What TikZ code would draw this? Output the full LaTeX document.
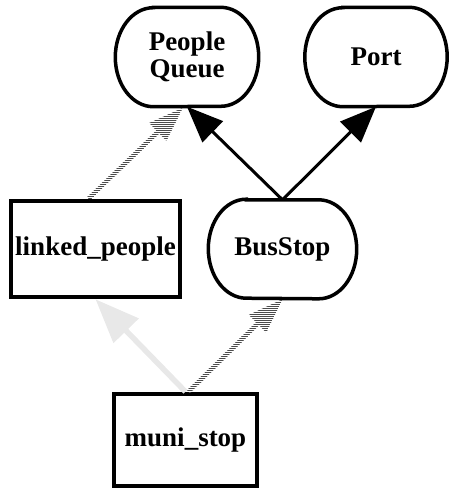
\documentclass[tikz,border=0pt]{standalone}
\usepackage{fontspec}
\setmainfont{Liberation Serif}
\usetikzlibrary{arrows.meta,calc,patterns.meta}
% outline with flat top and bottom and half-elliptic ends, drawn round a named node
\newcommand\stadiumoutline[1]{%
  \draw[line width=3.5pt]
    ([xshift=38pt]#1.north west) -- ([xshift=-38pt]#1.north east)
    arc[start angle=90, end angle=-90, x radius=38pt, y radius=49.5pt]
    -- ([xshift=38pt]#1.south west)
    arc[start angle=270, end angle=90, x radius=38pt, y radius=49.5pt]
    -- cycle;}
% striped arrow (shaft and head as one outline) from #1 to #2
\newcommand\hatcharrow[2]{%
  \coordinate (ha) at (#1);
  \coordinate (hb) at (#2);
  \coordinate (hc) at ($(hb)!35pt!(ha)$);
  \fill[hatch]
    ($(ha)!2.2pt!90:(hb)$) -- ($(hc)!2.2pt!90:(hb)$) -- ($(hc)!12.5pt!90:(hb)$)
    -- (hb) -- ($(hc)!12.5pt!-90:(hb)$) -- ($(hc)!2.2pt!-90:(hb)$)
    -- ($(ha)!2.2pt!-90:(hb)$) -- cycle;}
\begin{document}
\begin{tikzpicture}[x=1pt,y=-1pt,
  every node/.style={font=\fontsize{27}{27.5}\selectfont\bfseries, align=center, inner sep=0pt},
  roundbox/.style={minimum height=99pt},
  squarebox/.style={draw, line width=4.5pt},
  strong/.style={line width=3pt, -{Triangle[length=36pt,width=29pt]}},
  hatch/.style={pattern={Lines[angle=0, distance=2pt, line width=1pt]}, pattern color=black!70},
  faint/.style={draw=gray!18, line width=5.5pt,
    -{Triangle[length=44pt,width=34pt,fill=gray!18,color=gray!18]}}]
\useasboundingbox (0,0) rectangle (449,491);
\node[roundbox, minimum width=143pt] (pq) at (187,57) {People\\Queue};
\node[roundbox, minimum width=142pt] (port) at (376,57) {Port};
\node[roundbox, minimum width=148pt, minimum height=98pt] (bus) at (282.5,249) {BusStop};
\stadiumoutline{pq}
\stadiumoutline{port}
\stadiumoutline{bus}
\node[squarebox, minimum width=169pt, minimum height=96pt] (lp) at (95.5,249) {linked\_people};
\node[squarebox, minimum width=143pt, minimum height=92pt] (muni) at (185.5,440) {muni\_stop};
\draw[strong] (bus.north) -- (pq.south);
\draw[strong] (bus.north) -- (port.south);
\hatcharrow{[xshift=-7pt]lp.north}{[xshift=-4pt,yshift=-1pt]pq.south}
\draw[faint] (muni.north) -- (lp.south);
\hatcharrow{[xshift=3pt]muni.north}{[yshift=-1pt]bus.south}
\end{tikzpicture}
\end{document}
